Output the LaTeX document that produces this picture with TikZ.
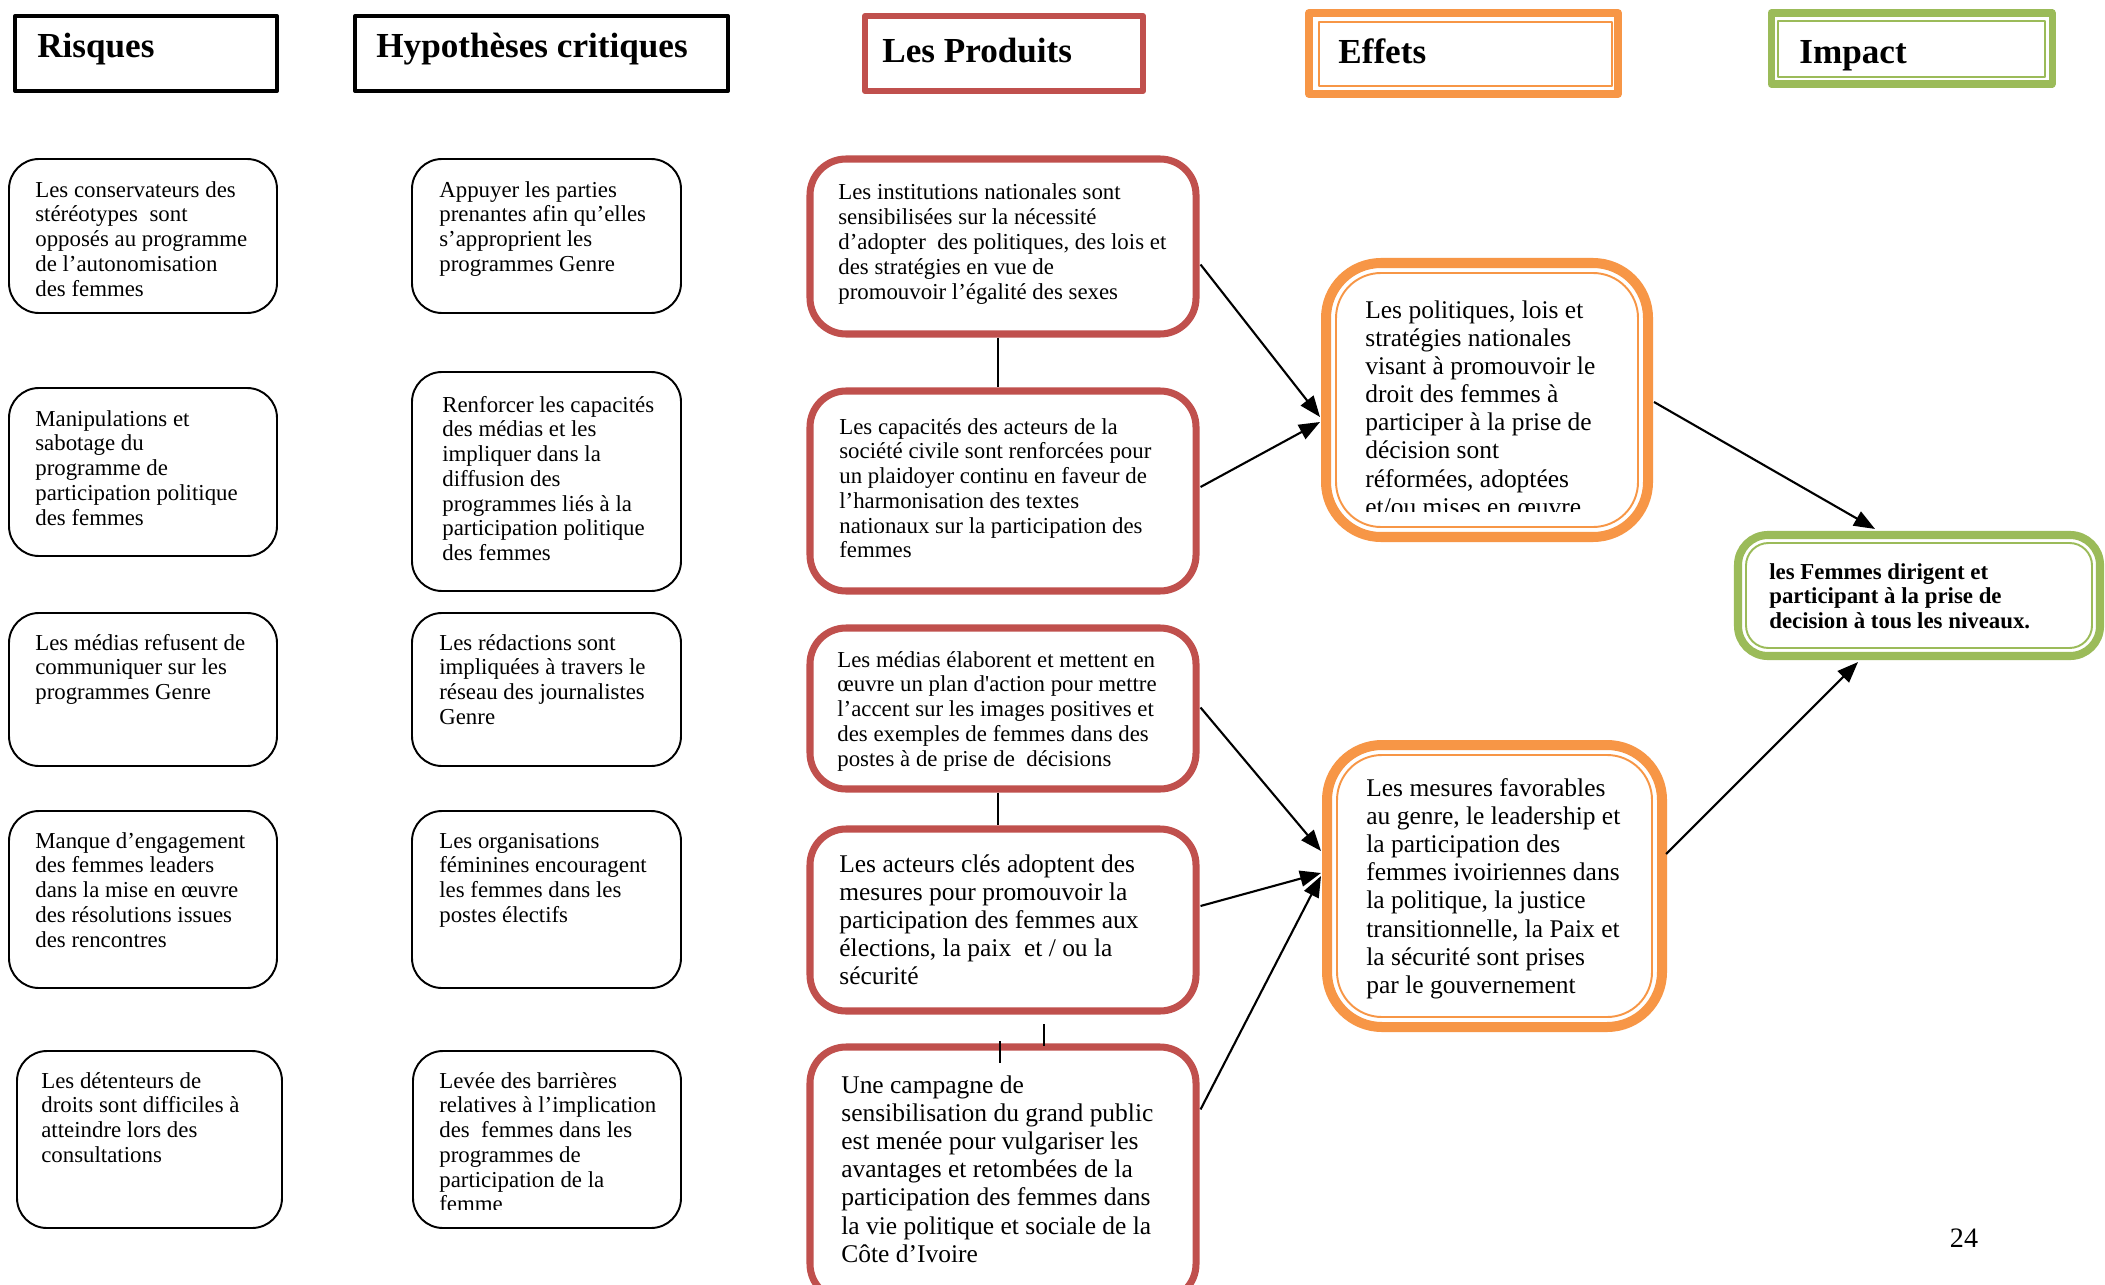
\documentclass[tikz,border=0pt]{standalone}
\usepackage{fontspec}
\setmainfont{Liberation Serif}
\usetikzlibrary{arrows.meta,calc,fit}

\definecolor{prodred}{HTML}{C0504D}
\definecolor{efforange}{HTML}{F79646}
\definecolor{impgreen}{HTML}{9BBB59}

% text blocks: first baseline sits on the node's base anchor
\newcommand\smalltxt[1]{\parbox[t]{9cm}{\fontsize{13}{14.1}\selectfont\raggedright #1}}
\newcommand\largetxt[1]{\parbox[t]{9cm}{\fontsize{14.5}{16.05}\selectfont\raggedright #1}}
\newcommand\boldtxt[1]{\parbox[t]{9cm}{\fontsize{13}{14.1}\selectfont\bfseries\raggedright #1}}
\newcommand\dsp{\hspace{0.25em}\ }

\begin{document}
\begin{tikzpicture}[x=0.02cm, y=-0.02cm, line join=round,
  txt/.style={anchor=base west, inner sep=0pt},
  hdrtxt/.style={anchor=base west, inner sep=0pt, font=\fontsize{20}{24}\selectfont\bfseries},
  plainbox/.style={draw=black, line width=1.1pt, rounded corners=0.6cm, inner sep=0pt},
  hdrbox/.style={draw=black, line width=2.3pt, inner sep=0pt},
  prodhdr/.style={draw=prodred, line width=3.4pt, inner sep=0pt},
  prodbox/.style={draw=prodred, line width=4pt, rounded corners=0.72cm, inner sep=0pt},
  effhdr/.style={draw=efforange, line width=4.6pt, inner sep=0pt},
  effbox/.style={draw=efforange, line width=5.7pt, rounded corners=1.1cm, inner sep=0pt},
  effinner/.style={draw=efforange, line width=1.1pt, rounded corners=0.9cm},
  imphdr/.style={draw=impgreen, line width=4pt, inner sep=0pt},
  impbox/.style={draw=impgreen, line width=4.6pt, rounded corners=0.6cm, inner sep=0pt},
  impinner/.style={draw=impgreen, line width=1.1pt, rounded corners=0.45cm},
  link/.style={line width=1.1pt},
  arr/.style={line width=1.2pt, -{Triangle[length=0.42cm, width=0.32cm]}}]

\useasboundingbox (0,0) rectangle (2105,1284);
\fill[white] (0,0) rectangle (2105,1284);
\clip (0,0) rectangle (2105,1284);

% ---------- column headers ----------
\node[hdrbox, fit={(15,16) (277,91)}] (hr) {};
\node[hdrtxt] (thr) at (37,58) {Risques};
\node[hdrbox, fit={(355,16) (728,91)}] (hh) {};
\node[hdrtxt] (thh) at (376,58) {Hypothèses critiques};
\node[prodhdr, fit={(865,16) (1143,91)}] (hp) {};
\node[hdrtxt] (thp) at (882,63) {Les Produits};
\node[effhdr, fit={(1309,13) (1618,94)}] (he) {};
\draw[efforange, line width=1.1pt] (1319,22) rectangle (1612,86);
\node[hdrtxt] (the) at (1338,64) {Effets};
\node[imphdr, fit={(1771,13) (2052,84)}] (hi) {};
\draw[impgreen, line width=1.1pt] (1778,21) rectangle (2045,77);
\node[hdrtxt] (thi) at (1799,64) {Impact};

% ---------- risks ----------
\node[plainbox, fit={(9,159) (277,313)}] (r1) {};
\node[txt] (tr1) at (35,197) {\smalltxt{Les conservateurs des\\stéréotypes\dsp sont\\opposés au programme\\de l’autonomisation\\des femmes}};
\node[plainbox, fit={(9,388) (277,556)}] (r2) {};
\node[txt] (tr2) at (35,426) {\smalltxt{Manipulations et\\sabotage du\\programme de\\participation politique\\des femmes}};
\node[plainbox, fit={(9,613) (277,766)}] (r3) {};
\node[txt] (tr3) at (35,650) {\smalltxt{Les médias refusent de\\communiquer sur les\\programmes Genre}};
\node[plainbox, fit={(9,811) (277,988)}] (r4) {};
\node[txt] (tr4) at (35,848) {\smalltxt{Manque d’engagement\\des femmes leaders\\dans la mise en œuvre\\des résolutions issues\\des rencontres}};
\node[plainbox, fit={(17,1051) (282,1228)}] (r5) {};
\node[txt] (tr5) at (41,1088) {\smalltxt{Les détenteurs de\\droits sont difficiles à\\atteindre lors des\\consultations}};

% ---------- critical assumptions ----------
\node[plainbox, fit={(412,159) (681,313)}] (h1) {};
\node[txt] (th1) at (439,197) {\smalltxt{Appuyer les parties\\prenantes afin qu’elles\\s’approprient les\\programmes Genre}};
\node[plainbox, fit={(412,372) (681,591)}] (h2) {};
\node[txt] (th2) at (442,412) {\smalltxt{Renforcer les capacités\\des médias et les\\impliquer dans la\\diffusion des\\programmes liés à la\\participation politique\\des femmes}};
\node[plainbox, fit={(412,613) (681,766)}] (h3) {};
\node[txt] (th3) at (439,650) {\smalltxt{Les rédactions sont\\impliquées à travers le\\réseau des journalistes\\Genre}};
\node[plainbox, fit={(412,811) (681,988)}] (h4) {};
\node[txt] (th4) at (439,848) {\smalltxt{Les organisations\\féminines encouragent\\les femmes dans les\\postes électifs}};
\node[plainbox, fit={(413,1051) (681,1228)}] (h5) {};
\begin{scope}
  \clip (420,1060) rectangle (676,1209);
  \node[txt] (th5) at (439,1088) {\smalltxt{Levée des barrières\\relatives à l’implication\\des\dsp femmes dans les\\programmes de\\participation de la\\femme}};
\end{scope}

% ---------- outputs ----------
\node[prodbox, fit={(810,159) (1196,334)}] (p1) {};
\node[txt] (tp1) at (838,200) {\smalltxt{Les institutions nationales sont\\sensibilisées sur la nécessité\\d’adopter\dsp des politiques, des lois et\\des stratégies en vue de\\promouvoir l’égalité des sexes}};
\node[prodbox, fit={(810,391) (1196,591)}] (p2) {};
\node[txt] (tp2) at (839,434) {\smalltxt{Les capacités des acteurs de la\\société civile sont renforcées pour\\un plaidoyer continu en faveur de\\l’harmonisation des textes\\nationaux sur la participation des\\femmes}};
\node[prodbox, fit={(810,628) (1196,789)}] (p3) {};
\node[txt] (tp3) at (837,667) {\smalltxt{Les médias élaborent et mettent en\\œuvre un plan d\textquotesingle action pour mettre\\l’accent sur les images positives et\\des exemples de femmes dans des\\postes à de prise de\dsp décisions}};
\node[prodbox, fit={(810,829) (1196,1011)}] (p4) {};
\node[txt] (tp4) at (839,872) {\largetxt{Les acteurs clés adoptent des\\mesures pour promouvoir la\\participation des femmes aux\\élections, la paix\dsp et / ou la\\sécurité}};
\node[prodbox, fit={(810,1047) (1196,1300)}] (p5) {};
\node[txt] (tp5) at (841,1093) {\largetxt{Une campagne de\\sensibilisation du grand public\\est menée pour vulgariser les\\avantages et retombées de la\\participation des femmes dans\\la vie politique et sociale de la\\Côte d’Ivoire}};

% links between outputs
\draw[link] ($(p1.south)+(-5,0)$) -- ($(p2.north)+(-5,0)$);
\draw[link] ($(p3.south)+(-5,0)$) -- ($(p4.north)+(-5,0)$);
\draw[link] ($(p5.north)+(41,-19)$) -- ($(p5.north)+(41,3)$);
\draw[link] ($(p5.north)+(-3,-2)$) -- ($(p5.north)+(-3,20)$);

% ---------- effects ----------
\node[effbox, fit={(1326,263) (1648,537)}] (e1) {};
\draw[effinner] (1336,273) rectangle (1638,527);
\begin{scope}
  \clip (1340,280) rectangle (1634,511);
  \node[txt] (te1) at (1365,318) {\largetxt{Les politiques, lois et\\stratégies nationales\\visant à promouvoir le\\droit des femmes à\\participer à la prise de\\décision sont\\réformées, adoptées\\et/ou mises en œuvre}};
\end{scope}
\node[effbox, fit={(1327,745) (1662,1027)}] (e2) {};
\draw[effinner] (1337,755) rectangle (1652,1017);
\node[txt] (te2) at (1366,796) {\largetxt{Les mesures favorables\\au genre, le leadership et\\la participation des\\femmes ivoiriennes dans\\la politique, la justice\\transitionnelle, la Paix et\\la sécurité sont prises\\par le gouvernement}};

% ---------- impact ----------
\node[impbox, fit={(1738,535) (2100,656)}] (im) {};
\draw[impinner] (1746,543) rectangle (2092,648);
\node[txt] (tim) at (1769,579) {\boldtxt{les Femmes dirigent et\\participant à la prise de\\decision à tous les niveaux.}};

% ---------- arrows ----------
\draw[arr] ($(p1.east)+(1,18)$) -- ($(e1.west)+(-1,17)$);
\draw[arr] ($(p2.east)+(1,-4)$) -- ($(e1.west)+(-1,22)$);
\draw[arr] ($(p3.east)+(1,-1)$) -- ($(e2.west)+(-1,-35)$);
\draw[arr] ($(p4.east)+(1,-14)$) -- ($(e2.west)+(-1,-13)$);
\draw[arr] ($(p5.north east)+(1,66)$) -- ($(e2.west)+(-1,-10)$);
\draw[arr] ($(e1.east)+(1,2)$) -- ($(im.north)+(-44,-2)$);
\draw[arr] ($(e2.east)+(-1,-32)$) -- ($(im.south)+(-61,2)$);

% page number
\node[anchor=base, inner sep=0pt, font=\fontsize{16}{19}\selectfont] (pg) at (1964,1247) {24};

\end{tikzpicture}
\end{document}
